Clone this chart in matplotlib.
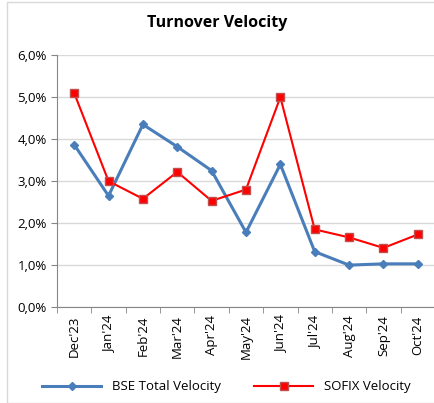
import matplotlib
matplotlib.use('Agg')
import matplotlib.pyplot as plt
from matplotlib.ticker import FuncFormatter
from matplotlib.patches import Rectangle

# ===== Data =====
MONTHS = ["Dec'23", "Jan'24", "Feb'24", "Mar'24", "Apr'24", "May'24",
          "Jun'24", "Jul'24", "Aug'24", "Sep'24", "Oct'24"]
BSE_VELOCITY = [3.87, 2.65, 4.35, 3.82, 3.25, 1.78, 3.40, 1.32, 1.00, 1.03, 1.03]
SOFIX_VELOCITY = [5.10, 3.00, 2.58, 3.22, 2.53, 2.80, 5.00, 1.85, 1.66, 1.41, 1.73]

plt.rcParams['font.family'] = ['Open Sans', 'DejaVu Sans']

fig = plt.figure(figsize=(4.35, 4.03), dpi=100)
fig.patches.append(Rectangle((0.016, 0.0), 0.99, 0.995, transform=fig.transFigure,
                             fill=False, edgecolor='#d9d9d9', linewidth=1.0))
ax = fig.add_axes([0.131, 0.238, 0.869, 0.625])

x = list(range(len(MONTHS)))
ax.plot(x, BSE_VELOCITY, color='#4a7ebb', linewidth=2.2, marker='D', markersize=4.5,
        markerfacecolor='#4a7ebb', markeredgecolor='#4a7ebb', label='BSE Total Velocity')
ax.plot(x, SOFIX_VELOCITY, color='#ff0000', linewidth=1.5, marker='s', markersize=6,
        markerfacecolor='#ff0000', markeredgecolor='#c0504d', markeredgewidth=1.0,
        label='SOFIX Velocity')

ax.set_xlim(-0.5, len(MONTHS) - 0.5)
ax.set_ylim(0, 6)
ax.set_yticks([0, 1, 2, 3, 4, 5, 6])
ax.yaxis.set_major_formatter(FuncFormatter(lambda v, p: f'{v:.1f}%'.replace('.', ',')))
ax.set_xticks(x)
ax.set_xticklabels(MONTHS, rotation=90, fontsize=9.5)
ax.set_xticks([i - 0.5 for i in range(len(MONTHS) + 1)], minor=True)
ax.tick_params(axis='x', which='major', length=0, pad=6)
ax.tick_params(axis='x', which='minor', length=4, color='#868686')
ax.tick_params(axis='y', length=4, color='#868686', labelsize=9.5)

ax.grid(axis='y', color='#d9d9d9', linewidth=1.0)
ax.set_axisbelow(True)
for s in ['top', 'right']:
    ax.spines[s].set_visible(False)
ax.spines['left'].set_color('#868686')
ax.spines['bottom'].set_color('#868686')

fig.text(0.5, 0.942, 'Turnover Velocity', ha='center', va='center',
         fontsize=11.5, fontweight='bold')

fig.legend(loc='center', bbox_to_anchor=(0.52, 0.04), ncol=2, frameon=False,
           fontsize=9.5, handlelength=4.5, columnspacing=2.5, markerscale=0.85)

fig.savefig('out.png', dpi=100)
